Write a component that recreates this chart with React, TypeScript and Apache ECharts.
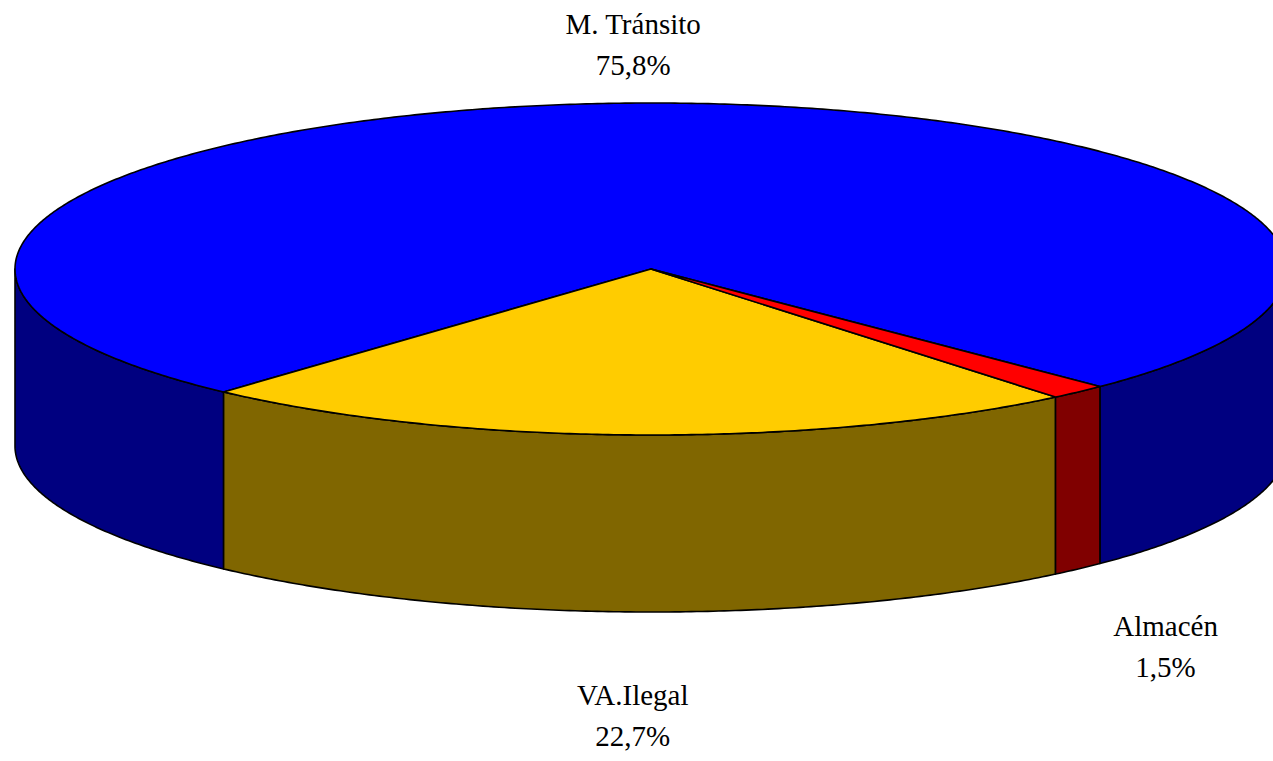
import React, { useEffect, useRef } from "react";
import * as echarts from "echarts";

// ---- data ----
const categories = ["M. Tránsito", "VA.Ilegal", "Almacén"];
const shares = [75.8, 22.7, 1.5];
const topColors = ["#0000FF", "#FFCC00", "#FF0000"];
const sideColors = ["#000080", "#806600", "#800000"];

// ---- layout ----
const CX = 651;
const CY = 269;
const RX = 636;
const RY = 166;
const DEPTH = 177;
const START = 405.1; // degrees, parametric angle measured clockwise on screen
const LABEL_RX = 766;
const LABEL_RY_TOP = 225;
const LABEL_RY_BOTTOM = 270;
const FONT = "'Liberation Serif', 'Times New Roman', serif";

function ellPt(t: number, dy: number): number[] {
  const r = (t * Math.PI) / 180;
  return [CX + RX * Math.cos(r), CY + RY * Math.sin(r) + dy];
}

function arcPts(a: number, b: number, dy: number): number[][] {
  const n = Math.max(2, Math.ceil(Math.abs(b - a) / 0.5));
  const pts: number[][] = [];
  for (let i = 0; i <= n; i++) {
    pts.push(ellPt(a + ((b - a) * i) / n, dy));
  }
  return pts;
}

const fmt = (v: number) => v.toFixed(1).replace(".", ",") + "%";

export default function App() {
  const ref = useRef<HTMLDivElement>(null);

  useEffect(() => {
    if (!ref.current) return;
    const chart = echarts.init(ref.current, undefined, { renderer: "svg" });
    const total = shares.reduce((s, v) => s + v, 0);

    const renderItem = (params: any, api: any) => {
      const idx = params.dataIndex;
      const value = api.value(0);
      let before = 0;
      for (let i = 0; i < idx; i++) before += shares[i];
      const hi = START - (before / total) * 360;
      const lo = hi - (value / total) * 360;
      const children: any[] = [];
      const stroke = { stroke: "#000000", lineWidth: 1.6, lineJoin: "round" };

      for (const k of [-360, 0, 360]) {
        const s = Math.max(lo, k);
        const e = Math.min(hi, k + 180);
        if (e > s) {
          children.push({
            type: "polygon",
            z2: 1,
            shape: { points: arcPts(s, e, 0).concat(arcPts(e, s, DEPTH)) },
            style: { fill: sideColors[idx], ...stroke },
          });
        }
      }

      children.push({
        type: "polygon",
        z2: 5,
        shape: { points: [[CX, CY]].concat(arcPts(lo, hi, 0)) },
        style: { fill: topColors[idx], ...stroke },
      });

      const mid = ((lo + hi) / 2) * (Math.PI / 180);
      const sn = Math.sin(mid);
      const lx = CX + Math.cos(mid) * LABEL_RX;
      const ly = CY + sn * (sn > 0 ? LABEL_RY_BOTTOM : LABEL_RY_TOP) + (sn > 0 ? DEPTH : 0);
      children.push({
        type: "text",
        z2: 10,
        x: lx,
        y: ly,
        style: {
          text: categories[idx] + "\n" + fmt(value),
          fill: "#000000",
          fontSize: 29,
          fontFamily: FONT,
          lineHeight: 41,
          align: "center",
          verticalAlign: "middle",
          textAlign: "center",
          textVerticalAlign: "middle",
        },
      });

      return { type: "group", children };
    };

    chart.setOption({
      animation: false,
      backgroundColor: "#ffffff",
      series: [
        {
          type: "custom",
          coordinateSystem: "none",
          silent: true,
          renderItem,
          data: shares.map((v, i) => ({ value: [v], name: categories[i] })),
        },
      ],
    });

    return () => chart.dispose();
  }, []);

  return (
    <div
      ref={ref}
      style={{ position: "fixed", left: 0, top: 0, width: 1273, height: 761, background: "#fff" }}
    />
  );
}
